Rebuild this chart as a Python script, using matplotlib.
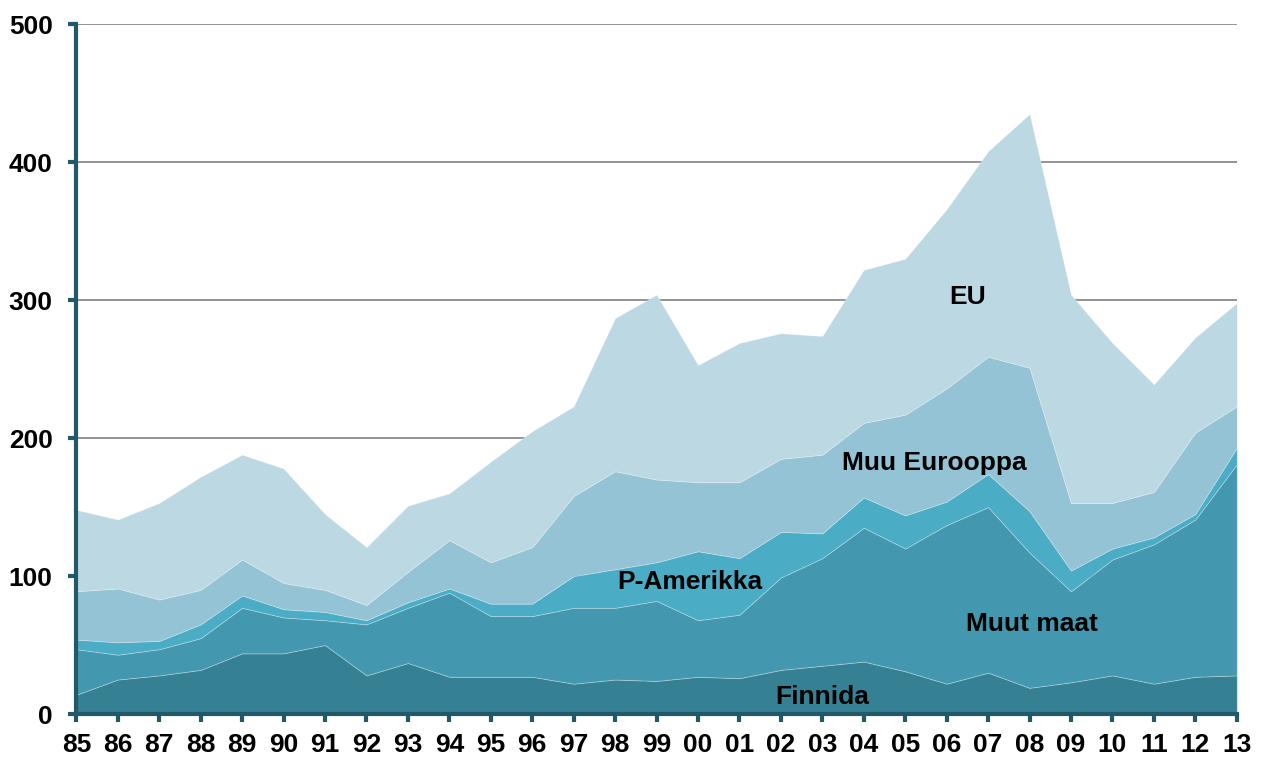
import numpy as np
from matplotlib import pyplot as plt

vuodet = ["85", "86", "87", "88", "89", "90", "91", "92", "93", "94", "95", "96", "97", "98", "99",
          "00", "01", "02", "03", "04", "05", "06", "07", "08", "09", "10", "11", "12", "13"]

# kerrokset alhaalta ylös (ei kumulatiivisia)
finnida = [14, 25, 28, 32, 44, 44, 50, 28, 37, 27, 27, 27, 22, 25, 24,
           27, 26, 32, 35, 38, 31, 22, 30, 19, 23, 28, 22, 27, 28]
muut_maat = [33, 18, 19, 23, 33, 26, 18, 37, 40, 61, 44, 44, 55, 52, 58,
             41, 46, 67, 78, 97, 89, 115, 120, 98, 66, 84, 101, 114, 153]
p_amerikka = [7, 9, 6, 10, 9, 6, 6, 3, 4, 3, 9, 9, 23, 28, 28,
              50, 41, 33, 18, 22, 24, 17, 24, 30, 15, 8, 5, 4, 12]
muu_eurooppa = [35, 39, 30, 25, 26, 19, 16, 11, 22, 35, 30, 41, 58, 71, 60,
                50, 55, 53, 57, 54, 73, 82, 85, 104, 49, 33, 33, 59, 30]
eu = [59, 50, 70, 82, 76, 83, 55, 42, 48, 34, 73, 84, 65, 111, 134,
      85, 101, 91, 86, 111, 113, 130, 149, 184, 151, 116, 78, 69, 75]

nimet = ["Finnida", "Muut maat", "P-Amerikka", "Muu Eurooppa", "EU"]
varit = ["#368093", "#4398B0", "#4BACC6", "#93C3D4", "#BCD8E3"]
akselivari = "#215968"

plt.rcParams['font.family'] = ['Liberation Sans', 'DejaVu Sans']

fig = plt.figure(figsize=(12.62, 7.58), dpi=100)
ax = fig.add_axes([0.0605, 0.058, 0.9195, 0.910])

x = np.arange(len(vuodet))
ax.stackplot(x, finnida, muut_maat, p_amerikka, muu_eurooppa, eu,
             colors=varit, edgecolor=(1, 1, 1, 0.3), linewidth=0.6, zorder=2)

ax.set_xlim(0, len(vuodet) - 1)
ax.set_ylim(0, 500)
ax.set_yticks(range(0, 501, 100))
ax.set_xticks(x)
ax.set_xticklabels(vuodet)

ax.grid(axis="y", color="#8a8a8a", linewidth=1.3, zorder=1)
ax.set_axisbelow(True)

for s in ["top", "right"]:
    ax.spines[s].set_visible(False)
for s in ["left", "bottom"]:
    ax.spines[s].set_color(akselivari)
    ax.spines[s].set_linewidth(3)
    ax.spines[s].set_zorder(5)

ax.tick_params(axis="both", color=akselivari, width=3, length=6, direction="out",
               labelsize=19)
ax.tick_params(axis="y", pad=11)
ax.tick_params(axis="x", pad=8)
for t in ax.get_xticklabels() + ax.get_yticklabels():
    t.set_fontweight("bold")

# tekstit alueiden päällä
tekstit = [("EU", 21.5, 302), ("Muu Eurooppa", 20.7, 182), ("P-Amerikka", 14.8, 96),
           ("Muut maat", 23.05, 65), ("Finnida", 18.0, 12)]
for teksti, tx, ty in tekstit:
    ax.text(tx, ty, teksti, ha="center", va="center", fontsize=19,
            fontweight="bold", color="black", zorder=6)

fig.savefig("out.png", dpi=100)
